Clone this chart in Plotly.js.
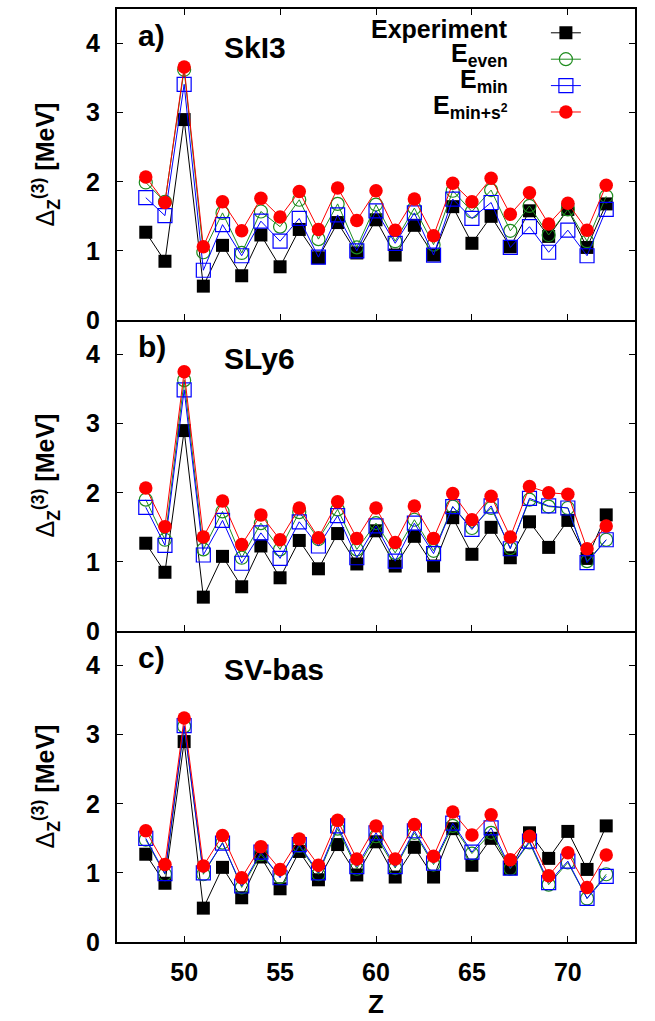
<!DOCTYPE html>
<html>
<head>
<meta charset="utf-8">
<script src="https://cdn.plot.ly/plotly-3.0.1.min.js"></script>
<style>html,body{margin:0;padding:0;background:#fff;}#chart{width:655px;height:1021px;}</style>
</head>
<body>
<div id="chart"></div>
<script>
// Proton number
const Z = [48,49,50,51,52,53,54,55,56,57,58,59,60,61,62,63,64,65,66,67,68,69,70,71,72];

// Experiment (same in all panels)
const expData = [1.27,0.85,2.90,0.49,1.08,0.64,1.23,0.77,1.31,0.90,1.41,0.97,1.45,0.94,1.37,0.94,1.64,1.11,1.50,1.06,1.58,1.21,1.60,1.05,1.68];

// a) SkI3
const skI3Even = [1.99,1.71,3.62,0.98,1.55,0.97,1.57,1.35,1.74,1.17,1.68,1.05,1.67,1.14,1.62,1.09,1.87,1.57,1.88,1.29,1.65,1.23,1.60,1.14,1.79];
const skI3Min  = [1.77,1.51,3.41,0.72,1.38,0.93,1.43,1.14,1.47,0.91,1.52,1.00,1.58,1.11,1.55,0.94,1.75,1.47,1.70,1.05,1.35,0.98,1.30,0.93,1.60];
const skI3S2   = [2.07,1.70,3.66,1.06,1.71,1.29,1.76,1.49,1.86,1.31,1.91,1.44,1.87,1.30,1.75,1.22,1.98,1.71,2.05,1.53,1.84,1.39,1.69,1.30,1.95];

// b) SLy6
const sly6Even = [1.90,1.32,3.63,1.18,1.73,1.06,1.56,1.18,1.72,1.33,1.76,1.18,1.56,1.13,1.61,1.16,1.80,1.49,1.78,1.20,1.90,1.80,1.78,1.01,1.32];
const sly6Min  = [1.79,1.24,3.49,1.10,1.60,0.98,1.42,1.05,1.58,1.23,1.67,1.06,1.52,1.01,1.56,1.12,1.80,1.47,1.81,1.19,1.92,1.81,1.78,0.99,1.32];
const sly6S2   = [2.07,1.51,3.75,1.36,1.88,1.25,1.68,1.32,1.78,1.35,1.87,1.34,1.78,1.28,1.81,1.34,1.99,1.61,1.95,1.36,2.09,2.00,1.98,1.19,1.52];

// c) SV-bas
const svbEven = [1.48,0.98,3.12,0.98,1.44,0.79,1.27,0.94,1.39,0.98,1.64,1.06,1.53,1.07,1.58,1.12,1.68,1.28,1.58,1.06,1.44,0.83,1.15,0.63,0.98];
const svbMin  = [1.50,0.99,3.13,1.00,1.43,0.81,1.30,0.93,1.41,1.00,1.68,1.09,1.58,1.09,1.61,1.14,1.72,1.30,1.65,1.07,1.46,0.86,1.17,0.63,0.95];
const svbS2   = [1.61,1.12,3.24,1.10,1.54,0.93,1.38,1.05,1.49,1.11,1.76,1.20,1.68,1.20,1.70,1.24,1.88,1.55,1.84,1.19,1.53,0.96,1.29,0.79,1.26];

const panelTags  = ['a)','b)','c)'];
const panelNames = ['SkI3','SLy6','SV-bas'];
const seriesLabels = ['<b>Experiment</b>','<b>E<sub>even</sub></b>','<b>E<sub>min</sub></b>','<b>E<sub>min+s<sup>2</sup></sub></b>'];
const yTickVals = [0,1,2,3,4];
const xTickVals = [50,55,60,65,70];
const xRange = [46.5, 73.5];
const yRange = [0, 4.5];

const panels = [
  {ax:'', even:skI3Even, min:skI3Min, s2:skI3S2},
  {ax:'2', even:sly6Even, min:sly6Min, s2:sly6S2},
  {ax:'3', even:svbEven, min:svbMin, s2:svbS2}
];

const styles = [
  {color:'#000000', symbol:'square', size:13, lw:1},
  {color:'#1e8c1e', symbol:'circle-open', size:13, lw:1},
  {color:'#0000ff', symbol:'square-open', size:14, lw:1},
  {color:'#ff0000', symbol:'circle', size:13.5, lw:1}
];

const traces = [];
panels.forEach((p, i) => {
  const ys = [expData, p.even, p.min, p.s2];
  ys.forEach((y, k) => {
    const st = styles[k];
    traces.push({
      x: Z, y: y, type: 'scatter', mode: 'lines+markers',
      xaxis: 'x' + p.ax, yaxis: 'y' + p.ax,
      name: ' ',
      legendgroup: 'g' + k,
      showlegend: i === 0,
      line: {color: st.color, width: st.lw},
      marker: {color: st.color, symbol: st.symbol, size: st.size,
               line: {color: st.color, width: st.symbol.indexOf('open') >= 0 ? 1.2 : 0}},
      hoverinfo: 'x+y'
    });
  });
});

const tickFont = {family: 'Liberation Sans, Arial, sans-serif', size: 25, weight: 700, color: '#000'};
const domains = [[2/3, 1], [1/3, 2/3], [0, 1/3]];

const layout = {
  width: 655, height: 1021,
  margin: {l: 117, r: 20, t: 9, b: 79},
  paper_bgcolor: '#fff', plot_bgcolor: '#fff',
  font: {family: 'Liberation Sans, Arial, sans-serif', color: '#000'},
  showlegend: true,
  legend: {x: 0.828, y: 0.994, xanchor: 'left', yanchor: 'top', bgcolor: 'rgba(0,0,0,0)',
           font: {size: 18}, tracegroupgap: 0, itemwidth: 30},
  annotations: [],
  hovermode: 'closest'
};

panels.forEach((p, i) => {
  const xa = {
    range: xRange, tickvals: xTickVals, ticks: 'inside', ticklen: 6, tickwidth: 1,
    tickcolor: '#000', showline: true, linewidth: 2, linecolor: '#000',
    mirror: i === 0 ? 'ticks' : false,
    showgrid: false, zeroline: false, anchor: 'y' + p.ax,
    showticklabels: i === 2, tickfont: tickFont, ticklabelstandoff: 7
  };
  if (i > 0) xa.matches = 'x';
  if (i === 2) xa.title = {text: '<b>Z</b>', font: {size: 26}, standoff: 10};
  const ya = {
    range: yRange, domain: domains[i], tickvals: yTickVals, ticks: 'inside', ticklen: 6, tickwidth: 1,
    tickcolor: '#000', showline: true, linewidth: 2, linecolor: '#000', mirror: 'ticks',
    showgrid: false, zeroline: false, anchor: 'x' + p.ax, tickfont: tickFont, ticklabelstandoff: 10,
    title: {text: 'Δ<b><sub>Z</sub><sup>(3)</sup> [MeV]</b>', font: {size: 25}, standoff: 24}
  };
  layout['xaxis' + p.ax] = xa;
  layout['yaxis' + p.ax] = ya;
  // top tick marks for lower panels (frame line there comes from the panel above)
  if (i > 0) {
    const topName = 'xaxis' + (3 + i);
    layout[topName] = {
      overlaying: 'x' + p.ax, side: 'top', anchor: 'y' + p.ax, matches: 'x',
      range: xRange, tickvals: xTickVals, ticks: 'inside', ticklen: 6, tickwidth: 1, tickcolor: '#000',
      showline: false, showgrid: false, zeroline: false, showticklabels: false
    };
  }
  layout.annotations.push({
    xref: 'x' + p.ax + ' domain', yref: 'y' + p.ax + ' domain', x: 0.037, y: 0.915,
    xanchor: 'left', yanchor: 'middle', showarrow: false,
    text: '<b>' + panelTags[i] + '</b>', font: {size: 30}
  });
  layout.annotations.push({
    xref: 'x' + p.ax + ' domain', yref: 'y' + p.ax + ' domain', x: 0.203, y: 0.875,
    xanchor: 'left', yanchor: 'middle', showarrow: false,
    text: '<b>' + panelNames[i] + '</b>', font: {size: 30}
  });
});

// legend labels (text to the left of the legend samples)
const legendRowY = [0.9785, 0.9505, 0.9225, 0.8945];
seriesLabels.forEach((t, k) => {
  layout.annotations.push({
    xref: 'paper', yref: 'paper', x: 0.758, y: legendRowY[k], xanchor: 'right', yanchor: 'middle',
    showarrow: false, text: t, font: {size: 25}
  });
});

Plotly.newPlot('chart', traces, layout, {displayModeBar: false, staticPlot: true});
</script>
</body>
</html>
